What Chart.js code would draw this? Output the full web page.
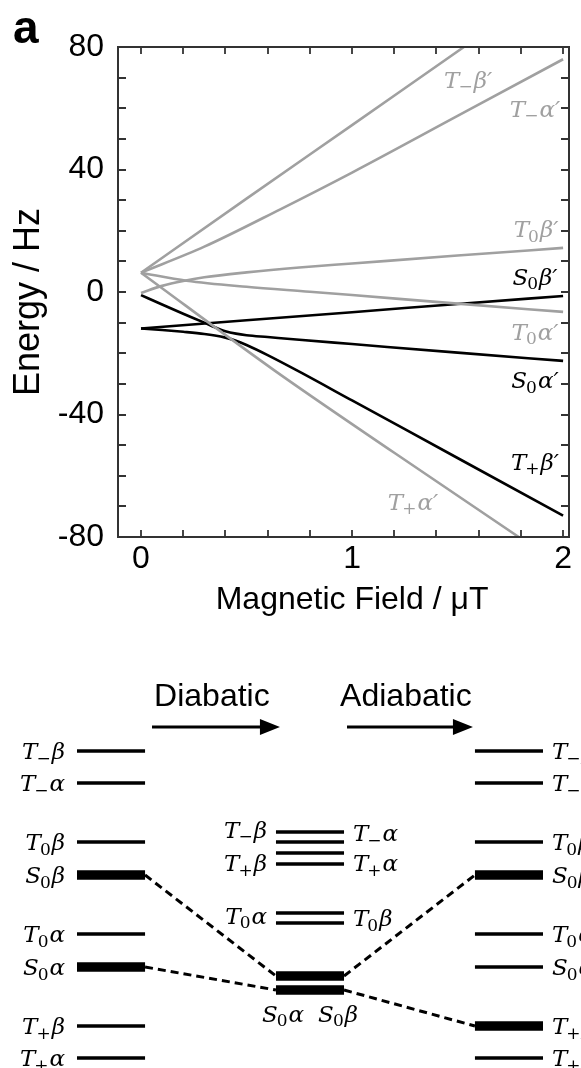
<!DOCTYPE html>
<html><head><meta charset="utf-8">
<script src="https://cdn.jsdelivr.net/npm/chart.js@4.4.1/dist/chart.umd.min.js"></script>
<style>
html,body{margin:0;padding:0;background:#fff;}
#wrap{position:relative;width:581px;height:1068px;overflow:hidden;background:#fff;}
#c1{position:absolute;left:0;top:0;}
#c2{position:absolute;left:0;top:640px;}
</style></head><body>
<div id="wrap"><canvas id="c1" width="581" height="640"></canvas><canvas id="c2" width="581" height="428"></canvas></div>
<script>
// ===== Panel a: energy levels vs magnetic field (Hz vs µT) =====
const xTmBeta  = [0, 0.5, 1, 1.53, 2];
const yTmBeta  = [6.3, 30.5, 54.5, 80, 102.5];
const xTmAlpha = [0, 0.3, 0.66, 1, 1.5, 2];
const yTmAlpha = [6.3, 14.8, 27, 39, 57.5, 76];
const xT0Beta  = [0, 0.1, 0.2, 0.3, 0.5, 0.75, 1, 1.5, 2];
const yT0Beta  = [-0.3, 2.0, 3.6, 4.8, 6.4, 8.0, 9.3, 11.9, 14.4];
const xT0Alpha = [0, 0.216, 0.5, 0.8, 1, 1.5, 2];
const yT0Alpha = [6.3, 3.7, 1.7, 0.1, -1.0, -3.8, -6.5];
const xTpAlpha = [0, 0.63, 1.2, 1.79, 2];
const yTpAlpha = [6.3, -25.5, -52.5, -80, -89.8];
const xS0Beta  = [0, 0.5, 1, 1.5, 2];
const yS0Beta  = [-11.9, -9.2, -6.6, -3.9, -1.3];
const xS0Alpha = [0, 0.1, 0.2, 0.3, 0.35, 0.4, 0.45, 0.5, 0.6, 0.75, 1, 1.5, 2];
const yS0Alpha = [-1.0, -4.1, -7.1, -10.0, -11.5, -12.8, -13.6, -14.1, -14.7, -15.6, -17.0, -19.8, -22.5];
const xTpBeta  = [0, 0.1, 0.2, 0.3, 0.35, 0.4, 0.45, 0.5, 0.6, 0.75, 1, 1.5, 2];
const yTpBeta  = [-11.9, -12.4, -13.0, -13.7, -14.2, -14.9, -15.9, -17.3, -20.6, -26.0, -35.4, -54.2, -73.0];

const xTickLabels = [0, 1, 2];
const yTickLabels = [-80, -40, 0, 40, 80];

// state labels of panel a
const stateNames  = ['T−β', 'T−α', 'T0β', 'S0β', 'T0α', 'S0α', 'T+β', 'T+α'];
const stateFields = [1.55, 1.867, 1.872, 1.867, 1.867, 1.867, 1.867, 1.289];
const stateEnergy = [69.4, 59.9, 20.6, 5.1, -12.9, -28.7, -55.3, -68.4];
const stateGrey   = [true, true, true, false, true, false, false, true];

// ===== Panel b: level diagram (arbitrary energy units) =====
const levelNames = ['T−β', 'T−α', 'T0β', 'S0β', 'T0α', 'S0α', 'T+β', 'T+α'];
const leftE   = [31.7, 28.5, 22.6, 19.3, 13.4, 10.1, 4.2, 1.0];
const leftThick  = [0, 0, 0, 1, 0, 1, 0, 0];
const midE    = [23.6, 22.6, 21.5, 20.4, 15.5, 14.5, 9.2, 7.8];
const midThick   = [0, 0, 0, 0, 0, 0, 1, 1];
const rightE  = [31.7, 28.5, 22.6, 19.3, 13.4, 10.1, 4.2, 1.0];
const rightThick = [0, 0, 0, 1, 0, 0, 1, 0];
// dashed correlations: [fromColumn, fromLevel, toColumn, toLevel]
const links = [[0, 3, 1, 6], [0, 5, 1, 7], [1, 6, 2, 3], [1, 7, 2, 6]];
const midLeftLabels  = ['T−β', 'T+β', 'T0α'];
const midLeftE       = [23.85, 20.5, 15.25];
const midRightLabels = ['T−α', 'T+α', 'T0β'];
const midRightE      = [23.5, 20.5, 15.0];
const midBottomLabels = ['S0α', 'S0β'];
const midBottomX      = [1.035, 1.312];
const midBottomE      = 5.45;

// ---------- helpers ----------
const GREY = '#a0a0a0';
const SANS = '"Liberation Sans", Arial, sans-serif';
const LABEL_SIZE = 23;
function pts(xs, ys) { return xs.map((x, i) => ({x: x, y: ys[i]})); }

function drawState(ctx, label, prime, x, y, size, color, align) {
  const base = label[0], sub = label[1], sym = label.slice(2);
  const fMain = 'italic ' + size + 'px "DejaVu Serif", serif';
  const fSub = Math.round(size * 0.74) + 'px "DejaVu Serif", serif';
  ctx.save();
  ctx.fillStyle = color; ctx.textBaseline = 'alphabetic'; ctx.textAlign = 'left';
  ctx.font = fMain;
  const wB = ctx.measureText(base).width, wY = ctx.measureText(sym).width;
  const wP = prime ? ctx.measureText('′').width : 0;
  ctx.font = fSub;
  const wS = ctx.measureText(sub).width;
  const w = wB + wS + wY + wP;
  let x0 = align === 'right' ? x - w : (align === 'center' ? x - w / 2 : x);
  const bl = y + size * 0.36;
  ctx.font = fMain; ctx.fillText(base, x0, bl); x0 += wB - 1;
  ctx.font = fSub; ctx.fillText(sub, x0, bl + size * 0.2); x0 += wS + 1;
  ctx.font = fMain; ctx.fillText(sym, x0, bl); x0 += wY;
  if (prime) ctx.fillText('′', x0, bl);
  ctx.restore();
}

// ---------- panel a ----------
const frameTicks = {
  id: 'frameTicks',
  afterDatasetsDraw(chart) {
    const {ctx, chartArea: a, scales: {x, y}} = chart;
    ctx.save();
    ctx.strokeStyle = '#333'; ctx.lineWidth = 2;
    ctx.strokeRect(a.left, a.top, a.right - a.left, a.bottom - a.top);
    ctx.lineWidth = 1.8; ctx.beginPath();
    x.ticks.forEach(t => {
      const p = Math.round(x.getPixelForValue(t.value));
      ctx.moveTo(p, a.bottom); ctx.lineTo(p, a.bottom - 7);
      ctx.moveTo(p, a.top); ctx.lineTo(p, a.top + 7);
    });
    y.ticks.forEach(t => {
      const p = Math.round(y.getPixelForValue(t.value));
      ctx.moveTo(a.left, p); ctx.lineTo(a.left + 8, p);
      ctx.moveTo(a.right, p); ctx.lineTo(a.right - 8, p);
    });
    ctx.stroke();
    stateNames.forEach((n, i) => {
      drawState(ctx, n, true, x.getPixelForValue(stateFields[i]), y.getPixelForValue(stateEnergy[i]),
        LABEL_SIZE, stateGrey[i] ? GREY : '#000', 'center');
    });
    ctx.fillStyle = '#000';
    ctx.textAlign = 'center'; ctx.textBaseline = 'middle';
    ctx.font = '32px ' + SANS;
    ctx.fillText('Magnetic Field / μT', x.getPixelForValue(1), 600);
    ctx.save();
    ctx.translate(29, 302); ctx.rotate(-Math.PI / 2);
    ctx.font = '36px ' + SANS;
    ctx.fillText('Energy / Hz', 0, 0);
    ctx.restore();
    ctx.textAlign = 'left'; ctx.textBaseline = 'alphabetic';
    ctx.font = 'bold 46px ' + SANS;
    ctx.fillText('a', 13, 43);
    ctx.restore();
  }
};

const lineDs = (label, xs, ys, color) => ({
  label: label, data: pts(xs, ys), borderColor: color, backgroundColor: color,
  borderWidth: 2.6, pointRadius: 0, pointHoverRadius: 0, showLine: true,
  cubicInterpolationMode: 'monotone', clip: 0
});

new Chart(document.getElementById('c1'), {
  type: 'scatter',
  data: {
    datasets: [
      lineDs('T−β′', xTmBeta, yTmBeta, GREY),
      lineDs('T−α′', xTmAlpha, yTmAlpha, GREY),
      lineDs('T0β′', xT0Beta, yT0Beta, GREY),
      lineDs('T0α′', xT0Alpha, yT0Alpha, GREY),
      lineDs('T+α′', xTpAlpha, yTpAlpha, GREY),
      lineDs('S0β′', xS0Beta, yS0Beta, '#000'),
      lineDs('S0α′', xS0Alpha, yS0Alpha, '#000'),
      lineDs('T+β′', xTpBeta, yTpBeta, '#000')
    ]
  },
  options: {
    responsive: false, animation: false, devicePixelRatio: 1, events: [],
    layout: {padding: {top: 47, right: 12, left: 0, bottom: 0}},
    plugins: {legend: {display: false}, tooltip: {enabled: false}},
    scales: {
      x: {
        type: 'linear', position: 'bottom', min: -0.109, max: 2.028,
        grid: {display: false, drawTicks: false}, border: {display: false},
        ticks: {
          stepSize: 0.2, includeBounds: false, autoSkip: false, maxRotation: 0, minRotation: 0,
          padding: 3, color: '#000', font: {family: SANS, size: 32},
          callback: v => xTickLabels.some(t => Math.abs(t - v) < 1e-6) ? String(Math.round(v)) : ''
        },
        afterFit: s => { s.height = 103; }
      },
      y: {
        type: 'linear', position: 'left', min: -80, max: 80,
        grid: {display: false, drawTicks: false}, border: {display: false},
        ticks: {
          stepSize: 10, autoSkip: false, padding: 14, color: '#000', font: {family: SANS, size: 32},
          callback: v => yTickLabels.includes(Math.round(v)) && Math.abs(v - Math.round(v)) < 1e-6 ? String(Math.round(v)) : ''
        },
        afterFit: s => { s.width = 118; }
      }
    }
  },
  plugins: [frameTicks]
});

// ---------- panel b ----------
const LEVEL_LEN = 0.342;          // column width (column units)
const columnsE = [leftE, midE, rightE];
const columnsThick = [leftThick, midThick, rightThick];
const levelDatasets = [];
columnsE.forEach((es, c) => {
  es.forEach((e, i) => {
    levelDatasets.push({
      data: [{x: c, y: e}, {x: c + LEVEL_LEN, y: e}],
      borderColor: '#000', borderWidth: columnsThick[c][i] ? 9.5 : 3.5,
      borderCapStyle: 'butt', showLine: true, pointRadius: 0, clip: false
    });
  });
});
links.forEach(l => {
  levelDatasets.push({
    data: [{x: l[0] + LEVEL_LEN, y: columnsE[l[0]][l[1]]}, {x: l[2], y: columnsE[l[2]][l[3]]}],
    borderColor: '#000', borderWidth: 3, borderDash: [8, 5],
    borderCapStyle: 'butt', showLine: true, pointRadius: 0, clip: false
  });
});

const arrowSpecs = [
  {text: 'Diabatic',  from: 0.377, to: 1.02, e: 34.1, tx: 0.678, te: 37.05},
  {text: 'Adiabatic', from: 1.357, to: 1.99, e: 34.1, tx: 1.653, te: 37.05}
];

const diagramDeco = {
  id: 'diagramDeco',
  afterDatasetsDraw(chart) {
    const {ctx, scales: {x, y}} = chart;
    const px = v => x.getPixelForValue(v), py = v => y.getPixelForValue(v);
    ctx.save();
    arrowSpecs.forEach(a => {
      const x0 = px(a.from), x1 = px(a.to), yy = py(a.e);
      ctx.strokeStyle = '#000'; ctx.fillStyle = '#000'; ctx.lineWidth = 3;
      ctx.beginPath(); ctx.moveTo(x0, yy); ctx.lineTo(x1 - 15, yy); ctx.stroke();
      ctx.beginPath(); ctx.moveTo(x1, yy); ctx.lineTo(x1 - 20, yy - 8); ctx.lineTo(x1 - 20, yy + 8); ctx.closePath(); ctx.fill();
      ctx.font = '32px ' + SANS; ctx.textAlign = 'center'; ctx.textBaseline = 'middle';
      ctx.fillText(a.text, px(a.tx), py(a.te));
    });
    levelNames.forEach((n, i) => {
      drawState(ctx, n, false, px(0) - 12, py(leftE[i]), LABEL_SIZE, '#000', 'right');
      drawState(ctx, n, false, px(2 + LEVEL_LEN) + 9, py(rightE[i]), LABEL_SIZE, '#000', 'left');
    });
    midLeftLabels.forEach((n, i) => drawState(ctx, n, false, px(1) - 9, py(midLeftE[i]), LABEL_SIZE, '#000', 'right'));
    midRightLabels.forEach((n, i) => drawState(ctx, n, false, px(1 + LEVEL_LEN) + 9, py(midRightE[i]), LABEL_SIZE, '#000', 'left'));
    midBottomLabels.forEach((n, i) => drawState(ctx, n, false, px(midBottomX[i]), py(midBottomE), LABEL_SIZE, '#000', 'center'));
    ctx.restore();
  }
};

new Chart(document.getElementById('c2'), {
  type: 'scatter',
  data: {datasets: levelDatasets},
  options: {
    responsive: false, animation: false, devicePixelRatio: 1, events: [],
    layout: {padding: 0},
    plugins: {legend: {display: false}, tooltip: {enabled: false}},
    scales: {
      x: {type: 'linear', display: false, min: -0.387, max: 2.533},
      y: {type: 'linear', display: false, min: 0, max: 42.8}
    }
  },
  plugins: [diagramDeco]
});
</script>
</body></html>
